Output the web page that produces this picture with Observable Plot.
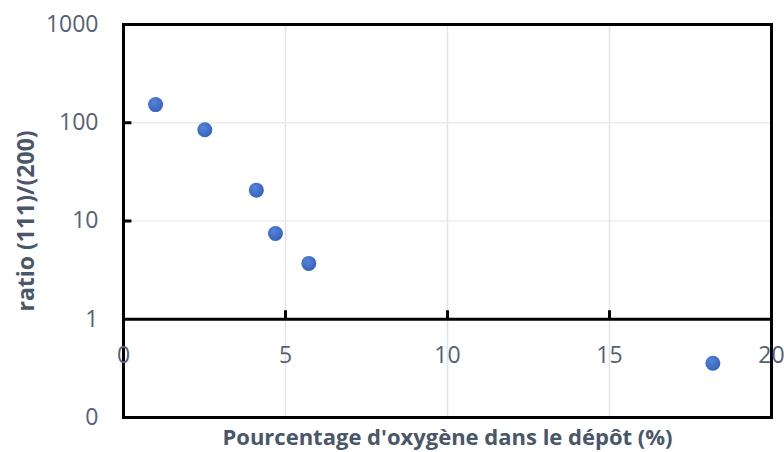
<!DOCTYPE html>
<html>
<head>
<meta charset="utf-8">
<script src="https://cdn.jsdelivr.net/npm/d3@7"></script>
<script src="https://cdn.jsdelivr.net/npm/@observablehq/plot@0.6"></script>
<style>
  html, body { margin: 0; padding: 0; background: #fff; }
  #chart svg { display: block; }
</style>
</head>
<body>
<div id="chart"></div>
<script>
// Data
const oxygenPct = [0.99, 2.51, 4.10, 4.69, 5.72, 18.19];
const ratio111_200 = [153, 85, 20.6, 7.46, 3.70, 0.356];

const xTicks = [0, 5, 10, 15, 20];
const xInnerTicks = [5, 10, 15];
const yTicks = [0.1, 1, 10, 100, 1000];
const yInnerTicks = [10, 100];
const yTickLabels = ["0", "1", "10", "100", "1000"];

const xTitle = "Pourcentage d'oxygène dans le dépôt (%)";
const yTitle = "ratio (111)/(200)";

const points = oxygenPct.map((x, i) => ({x, y: ratio111_200[i]}));

const labelColor = "#566175";
const titleColor = "#4a5669";
const font = "'Open Sans', 'Noto Sans', sans-serif";

const chart = Plot.plot({
  width: 784,
  height: 452,
  marginLeft: 123,
  marginRight: 13,
  marginTop: 24,
  marginBottom: 35,
  style: {fontFamily: font, background: "#fff"},
  x: {domain: [0, 20], axis: null},
  y: {type: "log", domain: [0.1, 1000]},
  marks: [
    Plot.gridX(xInnerTicks, {stroke: "#dfe4ec", strokeOpacity: 1, strokeWidth: 1.5}),
    Plot.gridY(yInnerTicks, {stroke: "#ececec", strokeOpacity: 1, strokeWidth: 1.5}),
    Plot.ruleY([1], {stroke: "#000", strokeWidth: 3}),
    Plot.ruleX(xInnerTicks, {x: d => d, y1: 1, y2: 1.22, stroke: "#000", strokeWidth: 3}),
    Plot.ruleY(yInnerTicks, {y: d => d, x1: 0, x2: 0.26, stroke: "#000", strokeWidth: 3}),
    Plot.frame({stroke: "#000", strokeWidth: 3}),
    Plot.axisY({
      ticks: yTicks,
      tickSize: 0,
      tickPadding: 25,
      tickFormat: d => yTickLabels[yTicks.indexOf(d)],
      fontSize: 23,
      fill: labelColor,
      label: null
    }),
    Plot.text(xTicks, {
      x: d => d,
      y: () => 1,
      dy: 36,
      text: d => String(d),
      fontSize: 23,
      fill: labelColor
    }),
    Plot.text([xTitle], {
      frameAnchor: "bottom",
      dy: 27,
      text: d => d,
      fontSize: 22,
      fontWeight: "bold",
      fill: titleColor
    }),
    Plot.text([yTitle], {
      frameAnchor: "left",
      textAnchor: "middle",
      dx: -97,
      rotate: -90,
      text: d => d,
      fontSize: 23,
      fontWeight: "bold",
      fill: titleColor
    }),
    Plot.dot(points, {x: "x", y: "y", r: 7.5, fill: "url(#dotGrad)", stroke: "none"})
  ]
});

// radial gradient for the dots
const svgNS = "http://www.w3.org/2000/svg";
const defs = document.createElementNS(svgNS, "defs");
const grad = document.createElementNS(svgNS, "radialGradient");
grad.setAttribute("id", "dotGrad");
grad.setAttribute("cx", "40%");
grad.setAttribute("cy", "35%");
grad.setAttribute("r", "65%");
[["0%", "#5584da"], ["100%", "#3562bc"]].forEach(([o, c]) => {
  const s = document.createElementNS(svgNS, "stop");
  s.setAttribute("offset", o);
  s.setAttribute("stop-color", c);
  grad.appendChild(s);
});
defs.appendChild(grad);
chart.insertBefore(defs, chart.firstChild);

document.getElementById("chart").appendChild(chart);
</script>
</body>
</html>
